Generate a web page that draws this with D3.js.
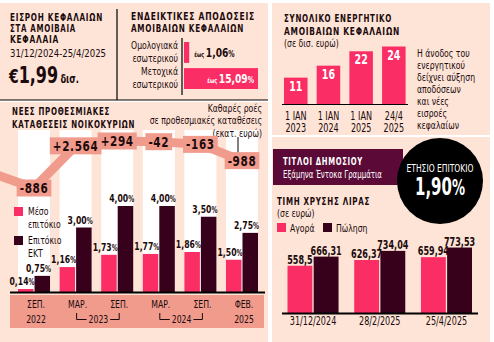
<!DOCTYPE html>
<html>
<head>
<meta charset="utf-8">
<script src="https://cdn.jsdelivr.net/npm/d3@7"></script>
<style>
  body { margin: 0; background: #fff; }
  svg text { font-family: "Liberation Sans Narrow", "DejaVu Sans Condensed", sans-serif; fill: #1c0a0c; }
  .hd { font-weight: bold; font-size: 11px; }
  .bold { font-weight: bold; }
</style>
</head>
<body>
<script>
// inflows box
const inflowTitle = ["ΕΙΣΡΟΗ ΚΕΦΑΛΑΙΩΝ", "ΣΤΑ ΑΜΟΙΒΑΙΑ", "ΚΕΦΑΛΑΙΑ"];
const inflowPeriod = "31/12/2024-25/4/2025";
const inflowAmount = 1.99;

// indicative returns
const returnTitle = ["ΕΝΔΕΙΚΤΙΚΕΣ ΑΠΟΔΟΣΕΙΣ", "ΑΜΟΙΒΑΙΩΝ ΚΕΦΑΛΑΙΩΝ"];
const fundTypes = [["Ομολογιακά", "εσωτερικού"], ["Μετοχικά", "εσωτερικού"]];
const fundReturns = [1.06, 15.09];

// total assets
const assetTitle = ["ΣΥΝΟΛΙΚΟ ΕΝΕΡΓΗΤΙΚΟ", "ΑΜΟΙΒΑΙΩΝ ΚΕΦΑΛΑΙΩΝ"];
const assetDates = [["1 ΙΑΝ", "2023"], ["1 ΙΑΝ", "2024"], ["1 ΙΑΝ", "2025"], ["24/4", "2025"]];
const assetValues = [11, 16, 22, 24];
const assetNote = ["Η άνοδος του", "ενεργητικού", "δείχνει αύξηση", "αποδόσεων", "και νέες", "εισροές", "κεφαλαίων"];

// household time deposits
const depTitle = ["ΝΕΕΣ ΠΡΟΘΕΣΜΙΑΚΕΣ", "ΚΑΤΑΘΕΣΕΙΣ ΝΟΙΚΟΚΥΡΙΩΝ"];
const depMonths = ["ΣΕΠ.", "ΜΑΡ.", "ΣΕΠ.", "ΜΑΡ.", "ΣΕΠ.", "ΦΕΒ."];
const depYears = [
  { label: "2022", from: 0, to: 0 },
  { label: "2023", from: 1, to: 2 },
  { label: "2024", from: 3, to: 4 },
  { label: "2025", from: 5, to: 5 }
];
const depositRate = [0.14, 1.16, 1.73, 1.77, 1.86, 1.50];
const ecbRate = [0.75, 3.00, 4.00, 4.00, 3.50, 2.75];
const netFlows = [-886, 2564, 294, -42, -163, -988];
const flowNote = ["Καθαρές ροές", "σε προθεσμιακές καταθέσεις", "(εκατ. ευρώ)"];

// treasury bills
const tbillTitle = ["ΤΙΤΛΟΙ ΔΗΜΟΣΙΟΥ", "Εξάμηνα Έντοκα Γραμμάτια"];
const tbillRate = 1.90;

// gold sovereign
const goldTitle = ["ΤΙΜΗ ΧΡΥΣΗΣ ΛΙΡΑΣ", "(σε ευρώ)"];
const goldDates = ["31/12/2024", "28/2/2025", "25/4/2025"];
const goldBuy = [558.5, 626.37, 659.94];
const goldSell = [666.31, 734.04, 773.53];

const peach = "#fde4d7", pink = "#fa2e65", maroon = "#37001b", salmon = "#f09b8c", plum = "#5b0a37", ink = "#1c0a0c";
const gr = d3.formatLocale({ decimal: ",", thousands: ".", grouping: [3], currency: ["€", ""], minus: "-" });
const pct = gr.format(".2f");
const flowFmt = gr.format("+,d");
const plain = v => String(v).replace(".", ",");

// the installed condensed face is still wide, so texts get pressed horizontally
function squeeze(sel, k = 0.78) {
  sel.each(function () {
    if (this.hasAttribute("textLength")) return;
    const w = this.getComputedTextLength();
    d3.select(this).attr("textLength", w * k).attr("lengthAdjust", "spacingAndGlyphs");
  });
  return sel;
}

const svg = d3.select("body").append("svg").attr("width", 494).attr("height", 342);

// background panels
const panels = [[0, 3, 268, 97], [0, 102, 268, 240], [272, 3, 218, 132], [272, 137, 218, 205]];
svg.selectAll("rect.panel").data(panels).enter().append("rect")
  .attr("class", "panel")
  .attr("x", d => d[0]).attr("y", d => d[1])
  .attr("width", d => d[2]).attr("height", d => d[3])
  .attr("fill", peach);

function heading(g, lines, x, y, step, widths) {
  lines.forEach((t, i) => {
    g.append("text").attr("class", "hd").attr("x", x).attr("y", y + i * step)
      .attr("letter-spacing", 1)
      .attr("textLength", widths[i]).attr("lengthAdjust", "spacingAndGlyphs").text(t);
  });
}

// ---- inflows ----
const gIn = svg.append("g");
heading(gIn, inflowTitle, 10, 21, 11.2, [93, 66, 49]);
gIn.append("text").attr("x", 10).attr("y", 57).attr("font-size", 11)
  .attr("textLength", 96).attr("lengthAdjust", "spacingAndGlyphs").text(inflowPeriod);
const amt = gIn.append("text").attr("x", 9).attr("y", 83).attr("class", "bold")
  .attr("textLength", 70).attr("lengthAdjust", "spacingAndGlyphs");
amt.append("tspan").attr("font-size", 20).text("€");
amt.append("tspan").attr("font-size", 23).text(gr.format(".2f")(inflowAmount));
amt.append("tspan").attr("font-size", 12).attr("dx", 3).text("δισ.");

svg.append("line").attr("x1", 117).attr("x2", 117).attr("y1", 9).attr("y2", 100)
  .attr("stroke", "#000").attr("stroke-width", 1.2);
svg.append("line").attr("x1", 0).attr("x2", 268).attr("y1", 100).attr("y2", 100)
  .attr("stroke", "#000").attr("stroke-width", 1.2);

// ---- indicative returns ----
const gRet = svg.append("g");
heading(gRet, returnTitle, 131, 20, 12, [124, 113]);
const rx = d3.scaleLinear().domain([0, d3.max(fundReturns)]).range([184, 258]);
const ry = d3.scaleBand().domain(d3.range(fundReturns.length)).range([42, 89]).paddingInner(0.2);

gRet.selectAll("rect").data(fundReturns).enter().append("rect")
  .attr("x", rx(0)).attr("y", (d, i) => ry(i))
  .attr("width", d => rx(d) - rx(0)).attr("height", ry.bandwidth())
  .attr("fill", pink);
fundTypes.forEach((lines, i) => {
  lines.forEach((t, j) => gRet.append("text").attr("x", 178).attr("y", ry(i) + 7 + j * 12.5)
    .attr("text-anchor", "end").attr("font-size", 11).text(t));
  const inside = rx(fundReturns[i]) - rx(0) > 50;
  const lab = gRet.append("text").attr("class", "bold")
    .attr("x", inside ? rx(fundReturns[i]) - 4 : rx(fundReturns[i]) + 5)
    .attr("y", ry(i) + ry.bandwidth() / 2 + 4.5)
    .attr("text-anchor", inside ? "end" : "start")
    .style("fill", inside ? "#fff" : ink);
  lab.append("tspan").attr("font-size", 7).text("έως ");
  lab.append("tspan").attr("font-size", 13).text(pct(fundReturns[i]));
  lab.append("tspan").attr("font-size", 9).text("%");
});
gRet.append("line").attr("x1", 182).attr("x2", 182).attr("y1", 38).attr("y2", 95)
  .attr("stroke", "#000").attr("stroke-width", 1.2);

// ---- total assets ----
const gAs = svg.append("g");
heading(gAs, assetTitle, 284, 22, 13, [108, 116]);
gAs.append("text").attr("x", 284).attr("y", 47).attr("font-size", 11).text("(σε δισ. ευρώ)");
const ax = d3.scaleBand().domain(d3.range(assetValues.length)).range([284, 405.6]).paddingInner(0.28);
const ay = d3.scaleLinear().domain([0, 24]).range([104, 46.5]);
gAs.selectAll("rect").data(assetValues).enter().append("rect")
  .attr("x", (d, i) => ax(i)).attr("y", d => ay(d))
  .attr("width", ax.bandwidth()).attr("height", d => ay(0) - ay(d))
  .attr("fill", pink);
gAs.selectAll("text.val").data(assetValues).enter().append("text")
  .attr("class", "val bold")
  .attr("x", (d, i) => ax(i) + ax.bandwidth() / 2).attr("y", d => ay(d) + 13)
  .attr("text-anchor", "middle").attr("font-size", 13.5).style("fill", "#fff")
  .text(d => d);
gAs.append("line").attr("x1", 282).attr("x2", 408).attr("y1", ay(0) + 0.5).attr("y2", ay(0) + 0.5)
  .attr("stroke", "#000").attr("stroke-width", 1);
assetDates.forEach((lines, i) => lines.forEach((t, j) =>
  gAs.append("text").attr("x", ax(i) + ax.bandwidth() / 2).attr("y", 120 + j * 11.5)
    .attr("text-anchor", "middle").attr("font-size", 11.5).text(t)));
assetNote.forEach((t, i) => gAs.append("text").attr("x", 417).attr("y", 57 + i * 12)
  .attr("font-size", 11).text(t));

// ---- household time deposits ----
const gDep = svg.append("g");
const dx = d3.scaleBand().domain(d3.range(depositRate.length)).range([18, 258]).paddingInner(0.23);
const dsub = d3.scaleBand().domain([0, 1]).range([0, dx.bandwidth()]).paddingInner(0.06);
const dy = d3.scaleLinear().domain([0, 4]).range([292, 206]);
const cx = i => dx(i) + dx.bandwidth() / 2;

gDep.selectAll("rect.col").data(depositRate).enter().append("rect")
  .attr("class", "col")
  .attr("x", (d, i) => dx(i)).attr("y", 130)
  .attr("width", dx.bandwidth()).attr("height", dy(0) - 130)
  .attr("fill", "#fff");

heading(gDep, depTitle, 12, 115, 12.5, [98, 123]);
flowNote.forEach((t, i) => gDep.append("text").attr("x", 262).attr("y", 112 + i * 12.3)
  .attr("text-anchor", "end").attr("font-size", 11).text(t));

// net flow ribbon, placed on running total
const cum = d3.cumsum(netFlows);
const fy = d3.scaleLinear().domain([d3.min(cum), d3.max(cum)]).range([188, 141]);
const flowPts = [[cx(0) - dx.step(), fy(0)]].concat(Array.from(cum, (c, i) => [cx(i), fy(c)]));
gDep.append("clipPath").attr("id", "depclip").append("rect")
  .attr("x", 0).attr("y", 100).attr("width", 268).attr("height", 242);
gDep.append("path").attr("clip-path", "url(#depclip)")
  .attr("d", d3.line()(flowPts))
  .attr("fill", "none").attr("stroke", salmon).attr("stroke-width", 9);

gDep.append("line").attr("x1", 238).attr("x2", 238).attr("y1", 137)
  .attr("y2", fy(cum[cum.length - 1]) - 8)
  .attr("stroke", "#000").attr("stroke-width", 1);

netFlows.forEach((v, i) => {
  const g = gDep.append("g");
  const t = g.append("text").attr("class", "bold").attr("x", cx(i)).attr("y", fy(cum[i]) + 5)
    .attr("text-anchor", "middle").attr("font-size", 14.5).attr("letter-spacing", 0.8)
    .text(flowFmt(v));
  squeeze(t, 0.8);
  const w = +t.attr("textLength");
  g.insert("rect", "text").attr("x", cx(i) - w / 2 - 3).attr("y", fy(cum[i]) - 8.5)
    .attr("width", w + 6).attr("height", 17).attr("fill", salmon);
});

// rate bars
const series = [depositRate, ecbRate];
const colors = [pink, maroon];
series.forEach((vals, s) => {
  gDep.selectAll("rect.s" + s).data(vals).enter().append("rect")
    .attr("class", "s" + s)
    .attr("x", (d, i) => dx(i) + dsub(s)).attr("y", d => dy(d))
    .attr("width", dsub.bandwidth()).attr("height", d => dy(0) - dy(d))
    .attr("fill", colors[s]);
  vals.forEach((d, i) => {
    const t = gDep.append("text").attr("class", "bold")
      .attr("x", dx(i) + dsub(s) + dsub.bandwidth() + 1).attr("y", dy(d) - 4)
      .attr("text-anchor", "end");
    t.append("tspan").attr("font-size", 11).text(pct(d));
    t.append("tspan").attr("font-size", 8.5).text("%");
  });
});

// legend
[["Μέσο", "επιτόκιο"], ["Επιτόκιο", "ΕΚΤ"]].forEach((lines, k) => {
  gDep.append("rect").attr("x", 14).attr("y", 207 + k * 29).attr("width", 9).attr("height", 9)
    .attr("fill", colors[k]);
  lines.forEach((t, j) => gDep.append("text").attr("x", 28).attr("y", 215 + k * 29 + j * 12.5)
    .attr("font-size", 11).text(t));
});

// axis
gDep.append("rect").attr("x", 10).attr("y", 295).attr("width", 254).attr("height", 33).attr("fill", salmon);
gDep.append("line").attr("x1", 10).attr("x2", 265).attr("y1", 292.5).attr("y2", 292.5)
  .attr("stroke", "#000").attr("stroke-width", 2);
depMonths.forEach((m, i) => gDep.append("text").attr("x", cx(i) + 2).attr("y", 308)
  .attr("text-anchor", "middle").attr("font-size", 11).text(m));
depYears.forEach(yr => {
  const a = cx(yr.from), b = cx(yr.to), mid = (a + b) / 2 + 2;
  const t = gDep.append("text").attr("x", mid).attr("y", 323)
    .attr("text-anchor", "middle").attr("font-size", 11).text(yr.label);
  squeeze(t);
  if (yr.from !== yr.to) {
    const w = +t.attr("textLength");
    const path = `M${a + 1},313V319.5H${mid - w / 2 - 2}M${mid + w / 2 + 2},319.5H${b + 2}V313`;
    gDep.append("path").attr("d", path).attr("fill", "none").attr("stroke", ink).attr("stroke-width", 1);
  }
});

// ---- treasury bills ----
const gTb = svg.append("g");
gTb.append("rect").attr("x", 273).attr("y", 149).attr("width", 130).attr("height", 36).attr("fill", plum);
gTb.append("text").attr("class", "hd").attr("x", 283).attr("y", 165).attr("textLength", 80)
  .attr("letter-spacing", 1).attr("lengthAdjust", "spacingAndGlyphs").style("fill", "#fff").text(tbillTitle[0]);
gTb.append("text").attr("x", 283).attr("y", 178).attr("font-size", 11).style("fill", "#fff")
  .attr("textLength", 99).attr("lengthAdjust", "spacingAndGlyphs").text(tbillTitle[1]);
gTb.append("circle").attr("cx", 440).attr("cy", 181).attr("r", 43).attr("fill", "#000");
gTb.append("text").attr("x", 440).attr("y", 172).attr("text-anchor", "middle").attr("font-size", 11)
  .attr("textLength", 67).attr("lengthAdjust", "spacingAndGlyphs")
  .style("fill", "#fff").text("ΕΤΗΣΙΟ ΕΠΙΤΟΚΙΟ");
const big = gTb.append("text").attr("class", "bold").attr("x", 440).attr("y", 195)
  .attr("text-anchor", "middle").style("fill", "#fff")
  .attr("textLength", 50).attr("lengthAdjust", "spacingAndGlyphs");
big.append("tspan").attr("font-size", 24).text(pct(tbillRate));
big.append("tspan").attr("font-size", 21).text("%");

// ---- gold sovereign ----
const gGo = svg.append("g");
gGo.append("text").attr("class", "hd").attr("x", 277).attr("y", 205).attr("textLength", 93)
  .attr("letter-spacing", 1).attr("lengthAdjust", "spacingAndGlyphs").text(goldTitle[0]);
gGo.append("text").attr("x", 277).attr("y", 217).attr("font-size", 11).text(goldTitle[1]);
[["Αγορά", pink], ["Πώληση", maroon]].forEach((d, k) => {
  gGo.append("rect").attr("x", 277 + k * 46).attr("y", 223).attr("width", 9).attr("height", 9).attr("fill", d[1]);
  gGo.append("text").attr("x", 290 + k * 46).attr("y", 232).attr("font-size", 11).text(d[0]);
});
const gx = d3.scaleBand().domain(goldDates).range([287.5, 472]).paddingInner(0.235);
const gsub = d3.scaleBand().domain([0, 1]).range([0, gx.bandwidth()]).paddingInner(0.05);
const gy = d3.scaleLinear().domain([0, 800]).range([313, 245.3]);
[goldBuy, goldSell].forEach((vals, s) => {
  gGo.selectAll("rect.g" + s).data(vals).enter().append("rect")
    .attr("class", "g" + s)
    .attr("x", (d, i) => gx(goldDates[i]) + gsub(s)).attr("y", d => gy(d))
    .attr("width", gsub.bandwidth()).attr("height", d => gy(0) - gy(d))
    .attr("fill", colors[s]);
  gGo.selectAll("text.g" + s).data(vals).enter().append("text")
    .attr("class", "g" + s + " bold")
    .attr("x", (d, i) => gx(goldDates[i]) + gsub(s) + gsub.bandwidth() / 2).attr("y", d => gy(d) - 2)
    .attr("text-anchor", "middle").attr("font-size", 11.5)
    .text(d => plain(d));
});
gGo.append("line").attr("x1", 282).attr("x2", 478).attr("y1", 313.5).attr("y2", 313.5)
  .attr("stroke", "#000").attr("stroke-width", 2);
goldDates.forEach(d => gGo.append("text").attr("x", gx(d) + gx.bandwidth() / 2).attr("y", 325)
  .attr("text-anchor", "middle").attr("font-size", 11.5).text(d));

squeeze(svg.selectAll("text"));
</script>
</body>
</html>
